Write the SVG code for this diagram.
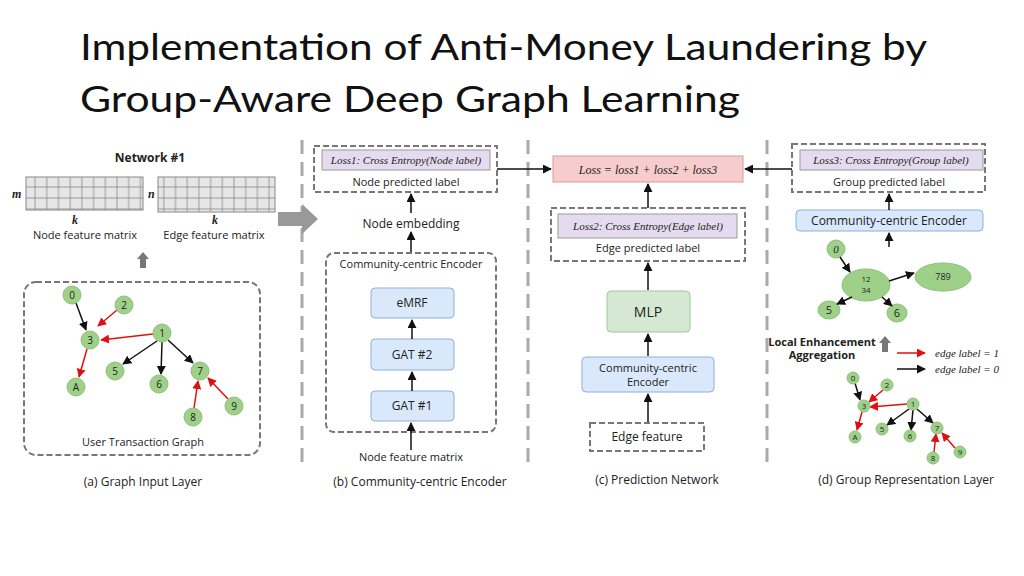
<svg xmlns="http://www.w3.org/2000/svg" width="1024" height="576" viewBox="0 0 1024 576">
<style>
text{font-family:"Open Sans","Liberation Sans",sans-serif;fill:#222}
.t{font-size:37px;fill:#111;font-family:Lato,"Open Sans",sans-serif}
.s{font-size:11px}
.m{font-size:12px}
.b{font-weight:bold}
.i{font-family:"Liberation Serif",serif;font-style:italic}
.dash{fill:#fff;stroke:#777;stroke-width:2;stroke-dasharray:6,3}
.div{stroke:#aaa;stroke-width:3;stroke-dasharray:14,8}
.pur{fill:#e4dcee;stroke:#999;stroke-width:1}
.blue{fill:#dae8fc;stroke:#8fb0d8;stroke-width:1}
.n{fill:#9fd08a;stroke:#8bc276}
.k{stroke:#111;stroke-width:1.5;fill:none;marker-end:url(#ak)}
.r{stroke:#e01010;stroke-width:1.5;fill:none;marker-end:url(#ar)}
</style>
<defs>
<marker id="ak" viewBox="0 0 10 10" refX="9" refY="5" markerWidth="6" markerHeight="6" orient="auto"><path d="M0,0L10,5L0,10z" fill="#111"/></marker>
<marker id="ar" viewBox="0 0 10 10" refX="9" refY="5" markerWidth="6" markerHeight="6" orient="auto"><path d="M0,0L10,5L0,10z" fill="#e01010"/></marker>
<pattern id="grid" width="11.7" height="11" patternUnits="userSpaceOnUse"><rect width="11.7" height="11" fill="#e6e6e6" stroke="#888" stroke-width="0.8"/></pattern>
</defs>
<text class="t" x="80" y="60" textLength="847" lengthAdjust="spacingAndGlyphs">Implementation of Anti-Money Laundering by</text>
<text class="t" x="80" y="112" textLength="660" lengthAdjust="spacingAndGlyphs">Group-Aware Deep Graph Learning</text>

<g id="dividers">
<line class="div" x1="302" y1="140" x2="302" y2="470"/>
<line class="div" x1="528" y1="140" x2="528" y2="470"/>
<line class="div" x1="767" y1="140" x2="767" y2="470"/>
</g>

<g id="panel-a">
<text class="m b" x="150" y="162" text-anchor="middle">Network #1</text>
<rect x="26" y="177" width="117" height="33" fill="url(#grid)" stroke="#888"/>
<rect x="158" y="177" width="117" height="35" fill="url(#grid)" stroke="#888"/>
<text class="m i b" x="12" y="198">m</text>
<text class="m i b" x="148" y="198">n</text>
<text class="m i b" x="72" y="224">k</text>
<text class="m i b" x="212" y="224">k</text>
<text class="s" x="85" y="239" text-anchor="middle">Node feature matrix</text>
<text class="s" x="214" y="239" text-anchor="middle">Edge feature matrix</text>
<path d="M140,268V259H137L143,252L149,259H146V268z" fill="#777"/>
<rect class="dash" x="24" y="282" width="236" height="173" rx="12"/>
<text class="s" x="143" y="446" text-anchor="middle">User Transaction Graph</text>
<text class="m" x="143" y="486" text-anchor="middle">(a)  Graph Input Layer</text>
</g>
<g id="graph-a-edges">
<line class="k" x1="76" y1="303" x2="86" y2="330"/>
<line class="r" x1="117" y1="310" x2="98" y2="326"/>
<line class="r" x1="153" y1="334" x2="101" y2="340"/>
<line class="r" x1="87" y1="349" x2="79" y2="377"/>
<line class="k" x1="157" y1="341" x2="123" y2="364"/>
<line class="k" x1="162" y1="342" x2="161" y2="374"/>
<line class="k" x1="168" y1="340" x2="193" y2="363"/>
<line class="r" x1="194" y1="408" x2="198" y2="381"/>
<line class="r" x1="228" y1="399" x2="208" y2="378"/>
</g>
<g id="graph-a-nodes" font-size="10">
<g id="a0"><circle class="n" cx="72" cy="295" r="9"/><text x="72" y="299" text-anchor="middle">0</text></g>
<g id="a2"><circle class="n" cx="124" cy="305" r="9"/><text x="124" y="309" text-anchor="middle">2</text></g>
<g id="a3"><circle class="n" cx="90" cy="340" r="9"/><text x="90" y="344" text-anchor="middle">3</text></g>
<g id="a1"><circle class="n" cx="162" cy="333" r="9"/><text x="162" y="337" text-anchor="middle">1</text></g>
<g id="a5"><circle class="n" cx="115" cy="371" r="9"/><text x="115" y="375" text-anchor="middle">5</text></g>
<g id="a6"><circle class="n" cx="159" cy="384" r="9"/><text x="159" y="388" text-anchor="middle">6</text></g>
<g id="a7"><circle class="n" cx="200" cy="371" r="9"/><text x="200" y="375" text-anchor="middle">7</text></g>
<g id="aA"><circle class="n" cx="76" cy="387" r="9"/><text x="76" y="391" text-anchor="middle">A</text></g>
<g id="a8"><circle class="n" cx="193" cy="417" r="9"/><text x="193" y="421" text-anchor="middle">8</text></g>
<g id="a9"><circle class="n" cx="234" cy="406" r="9"/><text x="234" y="410" text-anchor="middle">9</text></g>
</g>

<path id="big-arrow" d="M278,212H302V204L318,219L302,234V226H278z" fill="#999"/>

<g id="panel-b">
<g id="loss1"><rect class="dash" x="314" y="146" width="183" height="46"/>
<rect class="pur" x="322" y="150" width="168" height="20"/>
<text class="s i" x="406" y="164" text-anchor="middle">Loss1: Cross Entropy(Node label)</text>
<text class="s" x="406" y="186" text-anchor="middle">Node predicted label</text></g>
<text id="node-emb" class="m" x="411" y="228" text-anchor="middle">Node embedding</text>
<g id="cce-b"><rect class="dash" x="326" y="253" width="170" height="179" rx="8"/>
<text class="s" x="411" y="268" text-anchor="middle">Community-centric Encoder</text></g>
<g id="emrf"><rect class="blue" x="371" y="288" width="83" height="30" rx="4"/><text class="m" x="412" y="307" text-anchor="middle">eMRF</text></g>
<g id="gat2"><rect class="blue" x="371" y="339" width="83" height="31" rx="4"/><text class="m" x="412" y="359" text-anchor="middle">GAT #2</text></g>
<g id="gat1"><rect class="blue" x="371" y="391" width="83" height="30" rx="4"/><text class="m" x="412" y="410" text-anchor="middle">GAT #1</text></g>
<text class="s" x="411" y="461" text-anchor="middle">Node feature matrix</text>
<text class="m" x="420" y="486" text-anchor="middle">(b) Community-centric Encoder</text>
</g>

<g id="panel-c">
<g id="loss"><rect x="553" y="156" width="190" height="26" fill="#f6cccc" stroke="#d99"/>
<text class="m i" x="648" y="174" text-anchor="middle" font-size="13">Loss =  loss1 + loss2 + loss3</text></g>
<g id="loss2"><rect class="dash" x="551" y="208" width="194" height="53"/>
<rect class="pur" x="558" y="214" width="179" height="24"/>
<text class="s i" x="648" y="230" text-anchor="middle">Loss2: Cross Entropy(Edge label)</text>
<text class="s" x="648" y="252" text-anchor="middle">Edge predicted label</text></g>
<g id="mlp"><rect x="607" y="291" width="83" height="41" rx="4" fill="#d5e8d4" stroke="#9c9"/><text x="648" y="317" text-anchor="middle" font-size="14">MLP</text></g>
<g id="cce-c"><rect class="blue" x="582" y="357" width="132" height="35" rx="4"/>
<text class="s" x="648" y="372" text-anchor="middle">Community-centric</text><text class="s" x="648" y="386" text-anchor="middle">Encoder</text></g>
<g id="edgefeat"><rect class="dash" x="590" y="423" width="114" height="28"/><text class="m" x="647" y="441" text-anchor="middle">Edge feature</text></g>
<text class="m" x="657" y="484" text-anchor="middle">(c) Prediction Network</text>
</g>

<g id="panel-d">
<g id="loss3"><rect class="dash" x="792" y="144" width="193" height="48"/>
<rect class="pur" x="800" y="150" width="183" height="20"/>
<text class="s i" x="891" y="164" text-anchor="middle">Loss3: Cross Entropy(Group label)</text>
<text class="s" x="889" y="186" text-anchor="middle">Group predicted label</text></g>
<g id="cce-d"><rect class="blue" x="796" y="210" width="187" height="21" rx="4"/><text class="m" x="889" y="225" text-anchor="middle">Community-centric Encoder</text></g>
<g id="g0"><ellipse class="n" cx="836" cy="249" rx="9" ry="9"/><text class="s i" x="836" y="253" text-anchor="middle">0</text></g>
<g id="g1234"><ellipse class="n" cx="866" cy="285" rx="24" ry="16"/><text x="866" y="282" font-size="8" text-anchor="middle">12</text><text x="866" y="293" font-size="8" text-anchor="middle">34</text></g>
<g id="g789"><ellipse class="n" cx="943" cy="277" rx="28" ry="14"/><text x="943" y="280" font-size="9" text-anchor="middle">789</text></g>
<g id="g5"><ellipse class="n" cx="829" cy="310" rx="11" ry="9"/><text class="s" x="829" y="314" text-anchor="middle">5</text></g>
<g id="g6"><ellipse class="n" cx="897" cy="313" rx="10" ry="9"/><text class="s" x="897" y="317" text-anchor="middle">6</text></g>
<path d="M882,352V343H879L885,336L891,343H888V352z" fill="#777"/>
<text class="s b" x="822" y="346" text-anchor="middle" font-size="10">Local Enhancement</text>
<text class="s b" x="822" y="359" text-anchor="middle" font-size="10">Aggregation</text>
<line class="r" x1="897" y1="353" x2="925" y2="353"/>
<line class="k" x1="897" y1="369" x2="925" y2="369"/>
<text class="s i" x="935" y="357">edge label = 1</text>
<text class="s i" x="935" y="373">edge label = 0</text>
<text class="m" x="906" y="484" text-anchor="middle">(d)  Group Representation Layer</text>
</g>
<g id="graph-d-edges">
<line class="k" x1="840" y1="257" x2="850" y2="272"/>
<line class="k" x1="889" y1="281" x2="914" y2="273"/>
<line class="k" x1="852" y1="297" x2="837" y2="304"/>
<line class="k" x1="882" y1="297" x2="892" y2="306"/>
<line class="k" x1="855" y1="383" x2="860" y2="400"/>
<line class="r" x1="883" y1="390" x2="869" y2="402"/>
<line class="r" x1="907" y1="404" x2="870" y2="407"/>
<line class="r" x1="862" y1="412" x2="857" y2="430"/>
<line class="k" x1="909" y1="409" x2="887" y2="425"/>
<line class="k" x1="913" y1="410" x2="911" y2="430"/>
<line class="k" x1="917" y1="409" x2="933" y2="423"/>
<line class="r" x1="934" y1="452" x2="936" y2="434"/>
<line class="r" x1="955" y1="448" x2="942" y2="433"/>
</g>
<g id="graph-d-nodes" font-size="8">
<g><circle class="n" cx="853" cy="378" r="6"/><text x="853" y="381" text-anchor="middle">0</text></g>
<g><circle class="n" cx="887" cy="385" r="6"/><text x="887" y="388" text-anchor="middle">2</text></g>
<g><circle class="n" cx="864" cy="406" r="6"/><text x="864" y="409" text-anchor="middle">3</text></g>
<g><circle class="n" cx="913" cy="404" r="6"/><text x="913" y="407" text-anchor="middle">1</text></g>
<g><circle class="n" cx="882" cy="429" r="6"/><text x="882" y="432" text-anchor="middle">5</text></g>
<g><circle class="n" cx="910" cy="436" r="6"/><text x="910" y="439" text-anchor="middle">6</text></g>
<g><circle class="n" cx="937" cy="428" r="6"/><text x="937" y="431" text-anchor="middle">7</text></g>
<g><circle class="n" cx="855" cy="437" r="6"/><text x="855" y="440" text-anchor="middle">A</text></g>
<g><circle class="n" cx="933" cy="458" r="6"/><text x="933" y="461" text-anchor="middle">8</text></g>
<g><circle class="n" cx="960" cy="452" r="6"/><text x="960" y="455" text-anchor="middle">9</text></g>
</g>

<g id="connectors">
<line class="k" x1="411" y1="213" x2="411" y2="194"/>
<line class="k" x1="411" y1="252" x2="411" y2="232"/>
<line class="k" x1="412" y1="339" x2="412" y2="320"/>
<line class="k" x1="412" y1="391" x2="412" y2="372"/>
<line class="k" x1="411" y1="450" x2="411" y2="423"/>
<line class="k" x1="497" y1="169" x2="551" y2="169"/>
<line class="k" x1="792" y1="169" x2="745" y2="169"/>
<line class="k" x1="648" y1="208" x2="648" y2="184"/>
<line class="k" x1="648" y1="290" x2="648" y2="263"/>
<line class="k" x1="648" y1="356" x2="648" y2="334"/>
<line class="k" x1="648" y1="422" x2="648" y2="394"/>
<line class="k" x1="889" y1="210" x2="889" y2="194"/>
<line class="k" x1="889" y1="247" x2="889" y2="233"/>
</g>
</svg>
